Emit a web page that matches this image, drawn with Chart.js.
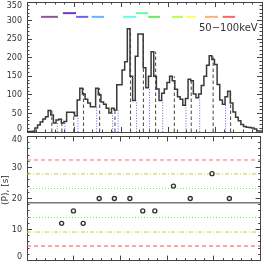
<!DOCTYPE html>
<html>
<head>
<meta charset="utf-8">
<script src="https://cdn.jsdelivr.net/npm/chart.js@4.4.1/dist/chart.umd.min.js"></script>
<style>
  body { margin: 0; background: #fff; }
  #wrap { position: relative; width: 266px; height: 266px; overflow: hidden; background: #fff; }
  canvas { position: absolute; left: 0; }
  #top { top: 0; }
  #bot { top: 131px; }
  .lbl { position: absolute; font-family: 'DejaVu Sans'; color: #333; white-space: nowrap; }
</style>
</head>
<body>
<div id="wrap">
  <canvas id="top" width="266" height="134"></canvas>
  <canvas id="bot" width="266" height="135"></canvas>
  <div class="lbl" style="left:199px; top:22px; font-size:10px;">50−100keV</div>
  <div class="lbl" style="left:0; top:205px; font-size:9px; line-height:10px; transform-origin:0 0; transform:rotate(-90deg);">(P), [s]</div>
</div>
<script>
// light curve, one value per bin (bins 0..88)
const hist = [1.5, 1.5, 1.5, 2, 11, 19, 27, 35, 41, 58,
  46, 24, 32, 34, 24, 28, 53, 53, 53, 44,
  86, 118, 102, 88, 78, 68, 68, 118, 100, 81,
  75, 64, 51, 64, 59, 127, 127, 167, 189, 278,
  150, 85, 204, 264, 264, 173, 119, 150, 216, 150,
  116, 85, 104, 116, 133, 150, 138, 115, 95, 88,
  72, 90, 142, 138, 102, 92, 102, 125, 150, 180,
  205, 195, 182, 128, 86, 75, 95, 110, 78, 54,
  40, 30, 20, 15, 13, 12, 11, 8, 3];

// peak and dip times (bin units)
const peakX = [9.4, 13.2, 17.7, 21.4, 27.5, 33.3, 39.2, 44.1, 48.7, 55.8, 62.2, 70.5, 77.1];
const dipX = [11.5, 14.4, 19.3, 26.4, 32.4, 34.5, 41.5, 46.4, 51.4, 60.2, 65.4, 75.2];

// peak-to-peak periods, s
const periods = [12, 16, 12, 20, 20, 20, 16, 16, 24, 20, 28, 20];
// mean and +-1,2,3 sigma levels
const levels = [4.7, 9.2, 13.9, 18.6, 23.2, 27.9, 32.4];

// coloured interval bars at the top
const barStart = [5.3, 13.6, 18.6, 24.5, 36.4, 41.3, 45.9, 54.9, 60.2, 67.4, 74.1];
const barEnd = [11.7, 18.6, 23.2, 29.2, 41.3, 45.9, 50.4, 59.1, 64.0, 72.3, 78.8];
const barLevel = [310, 320, 310, 310, 310, 320, 310, 310, 310, 310, 310];
const barColors = ['#8a5a98', '#7433cc', '#6464ff', '#64b4ff', '#64ffea', '#64ffa8',
  '#5ef05e', '#b4ff50', '#ffff5e', '#ffb070', '#ff6464'];

const nBins = hist.length;
const xMajor = [0, 1, 2, 3, 4, 5].map(i => i * nBins / 5);
const xMinor = Array.from({length: 26}, (_, i) => i * nBins / 25);
const frame = '#444';

function fixSize(size) {
  return s => {
    if (s.isHorizontal()) s.height = size; else s.width = size;
    s.paddingTop = s.paddingBottom = s.paddingLeft = s.paddingRight = 0;
  };
}
function tickSet(vals) {
  return s => { s.ticks = vals.map(v => ({value: v})); };
}
function edge(pos, ticks, len, weight, size, border, min, max) {
  return {
    type: 'linear', position: pos, min: min, max: max, weight: weight,
    afterBuildTicks: tickSet(ticks), afterFit: fixSize(size),
    grid: { drawOnChartArea: false, tickLength: len, color: frame, lineWidth: 1 },
    border: { display: border, color: frame, width: 1 },
    ticks: { display: false, autoSkip: false }
  };
}
function frameScales(yMax, yMajorStep, yMinorStep, sz) {
  const yMaj = [], yMin = [];
  for (let v = 0; v <= yMax; v += yMajorStep) yMaj.push(v);
  for (let v = 0; v <= yMax; v += yMinorStep) yMin.push(v);
  const y = edge('left', yMaj, -5, 1, sz.left, true, 0, yMax);
  y.ticks = {
    display: true, autoSkip: false, padding: 10, color: '#333',
    font: { family: 'DejaVu Sans', size: 8, lineHeight: '7px' },
    callback: (v, i, arr) => i === 0 ? [String(v), ''] : (i === arr.length - 1 ? ['', String(v)] : String(v))
  };
  return {
    x: edge('bottom', xMajor, -5, 1, sz.bottom, true, 0, nBins),
    xm: edge('bottom', xMinor, -2.5, 0, 0, false, 0, nBins),
    x2: edge('top', xMajor, -5, 1, sz.top, true, 0, nBins),
    x2m: edge('top', xMinor, -2.5, 0, 0, false, 0, nBins),
    y: y,
    ym: edge('left', yMin, -2.5, 0, 0, false, 0, yMax),
    y2: edge('right', yMaj, -5, 1, sz.right, true, 0, yMax),
    y2m: edge('right', yMin, -2.5, 0, 0, false, 0, yMax)
  };
}
function stems(xs) {
  const pts = [];
  xs.forEach(x => { pts.push({x: x, y: 0}, {x: x, y: hist[Math.floor(x)]}, {x: x, y: null}); });
  return pts;
}

const histPts = hist.map((v, i) => ({x: i, y: v}));
histPts.push({x: nBins, y: hist[nBins - 1]});

const topSets = [
  { data: histPts, stepped: 'after', borderColor: '#3a3a3a', borderWidth: 1.5 },
  { data: stems(peakX), borderColor: '#555', borderWidth: 1.1, borderDash: [3.5, 2.5], spanGaps: false },
  { data: stems(dipX), borderColor: '#5a62ff', borderWidth: 1, borderDash: [1, 1.6], spanGaps: false }
];
barStart.forEach((s, i) => {
  topSets.push({ data: [{x: s, y: barLevel[i]}, {x: barEnd[i], y: barLevel[i]}],
    borderColor: barColors[i], borderWidth: 2 });
});

const levelStyle = [
  { c: '#ff4d4d', d: [4, 3] }, { c: '#c3d030', d: [4, 2, 1, 2] }, { c: '#70f050', d: [1, 2] },
  { c: '#333', d: [] },
  { c: '#70f050', d: [1, 2] }, { c: '#c3d030', d: [4, 2, 1, 2] }, { c: '#ff6a6a', d: [4, 3] }
];
const botSets = levels.map((L, i) => ({
  data: [{x: 0, y: L}, {x: nBins, y: L}],
  borderColor: levelStyle[i].c, borderDash: levelStyle[i].d, borderWidth: 1
}));
botSets.unshift({
  data: periods.map((p, i) => ({x: peakX[i + 1], y: p})),
  showLine: false, pointRadius: 2, pointBorderWidth: 1.4,
  pointBorderColor: '#333', pointBackgroundColor: '#fff'
});

const common = {
  responsive: false, animation: false, devicePixelRatio: 1,
  layout: { padding: 0 },
  plugins: { legend: { display: false }, tooltip: { enabled: false } },
  elements: { point: { radius: 0 }, line: { tension: 0, fill: false } }
};

new Chart(document.getElementById('top'), {
  type: 'line',
  data: { datasets: topSets },
  options: Object.assign({}, common, {
    scales: frameScales(350, 50, 10, {left: 27, right: 4, top: 2, bottom: 2})
  })
});

new Chart(document.getElementById('bot'), {
  type: 'line',
  data: { datasets: botSets },
  options: Object.assign({}, common, {
    scales: frameScales(40, 10, 2, {left: 27, right: 4, top: 1, bottom: 4})
  })
});
</script>
</body>
</html>
